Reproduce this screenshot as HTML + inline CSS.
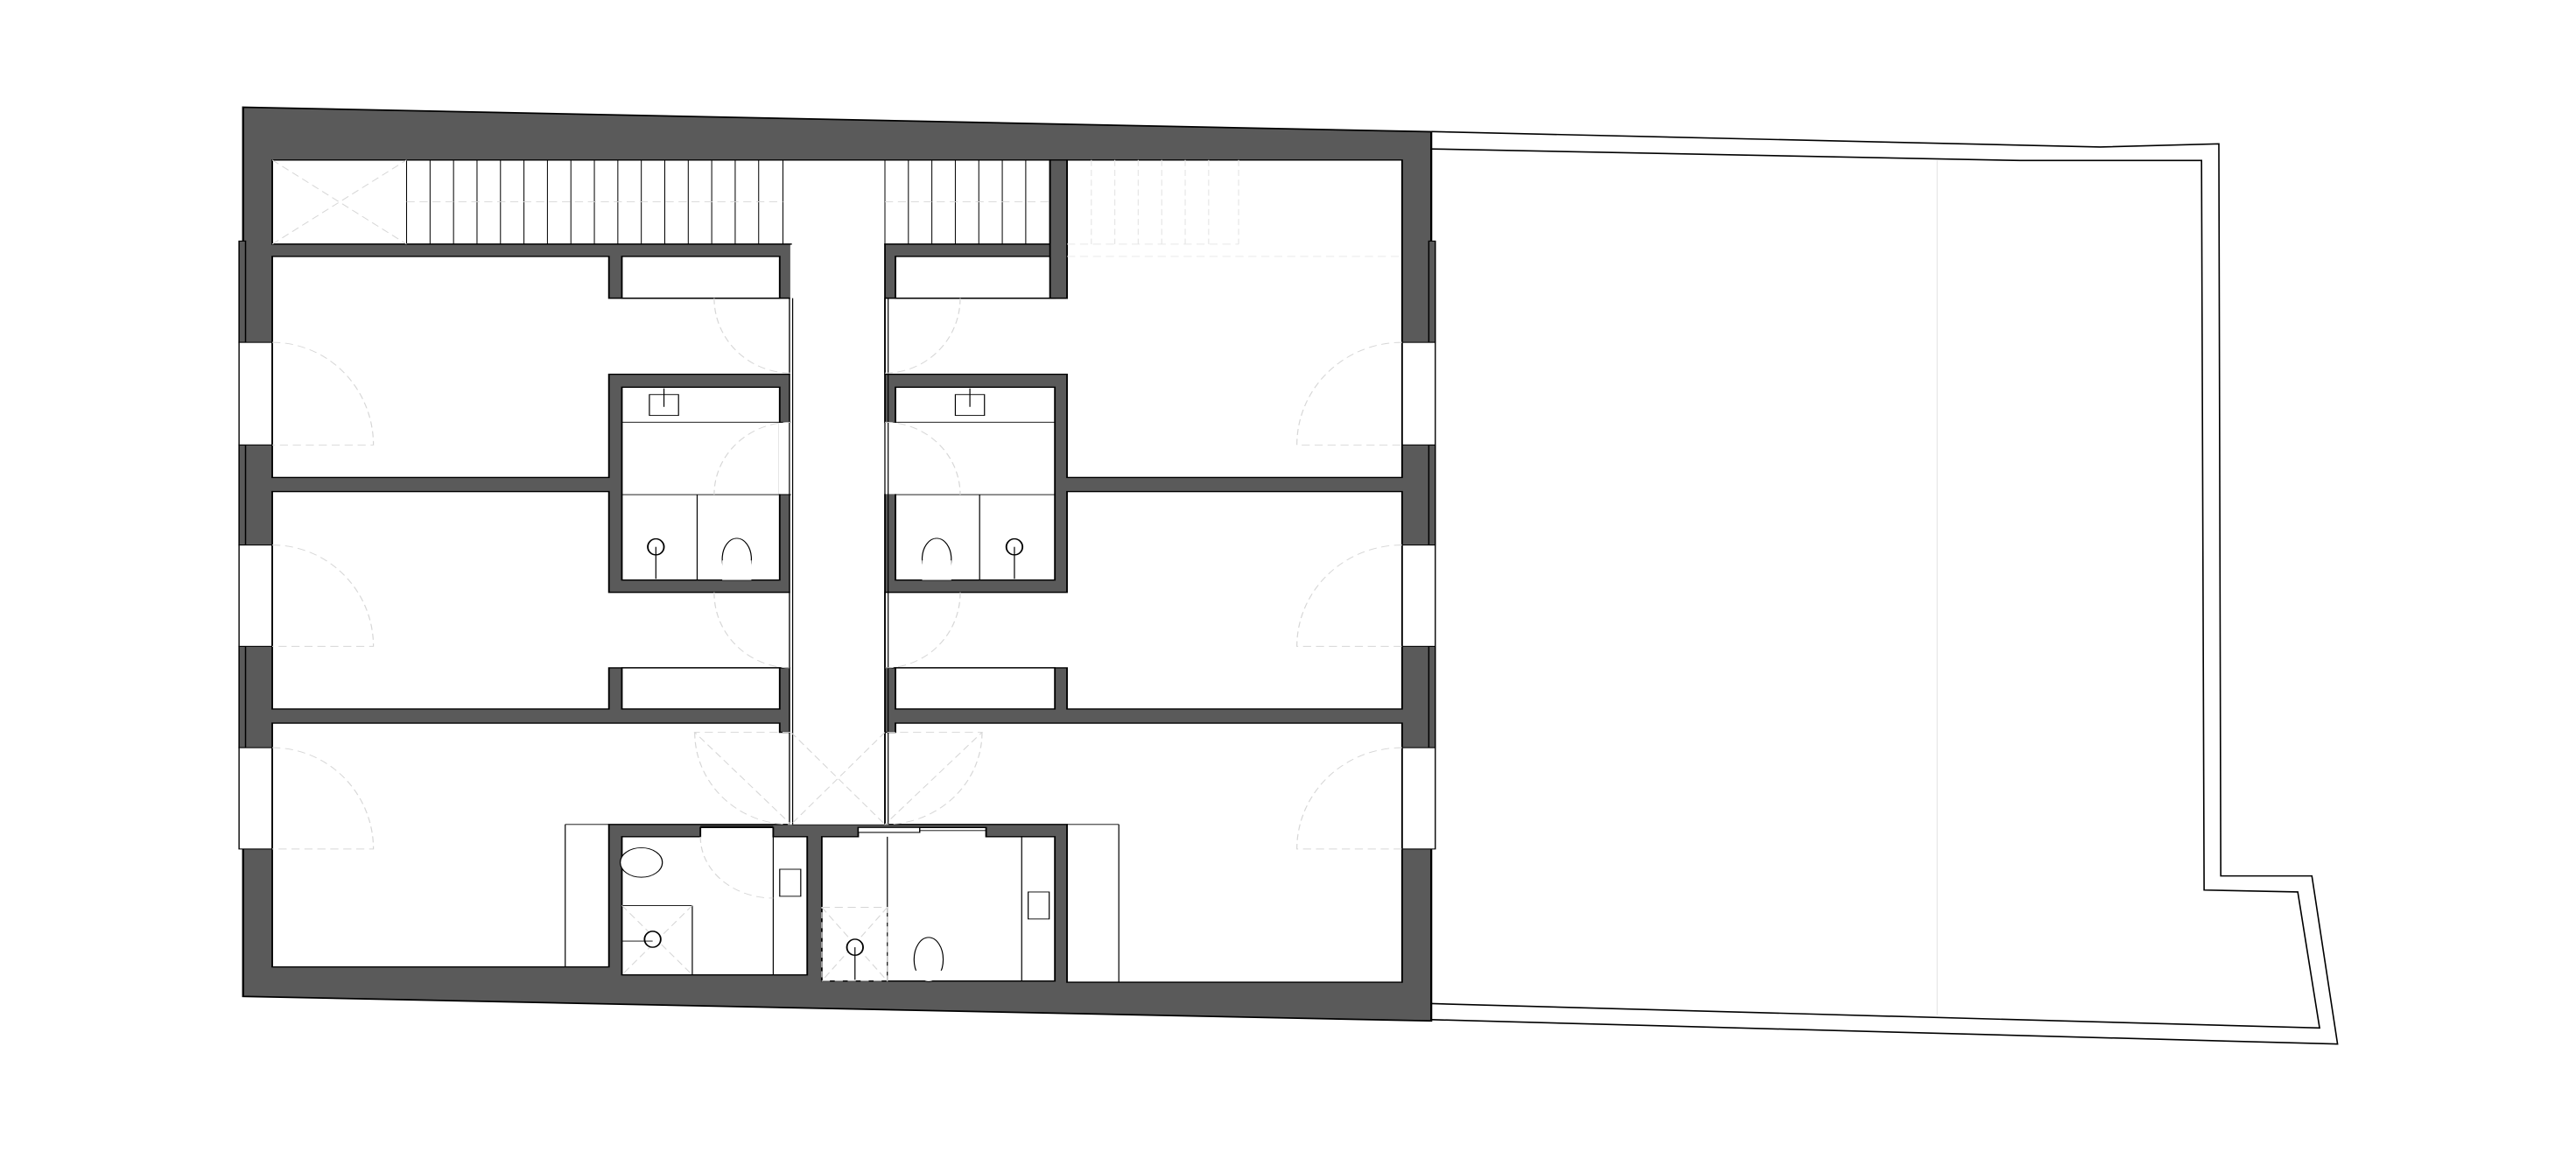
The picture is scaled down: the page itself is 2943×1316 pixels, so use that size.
<!DOCTYPE html>
<html><head><meta charset="utf-8"><style>
html,body{margin:0;padding:0;background:#fff;overflow:hidden;}
svg{display:block;}
</style></head><body>
<svg width="2943" height="1316" viewBox="0 0 2943 1316" xmlns="http://www.w3.org/2000/svg">
<rect width="2943" height="1316" fill="#fff"/>
<g transform="translate(1600.4,100.5) scale(0.733)" fill="none" stroke="#000" stroke-width="2.2">
  <polyline points="48,68 1090,92 1275,87 1278,1228 1420,1228 1460,1490 48,1452"/>
  <polyline points="48,95 965,113 1248,113 1252,1250 1398,1253 1432,1465 48,1427"/>
  <line x1="836" y1="113" x2="836" y2="1445" stroke="#e4e4e4" stroke-width="1.5"/>
</g>
<g transform="translate(250,100) scale(0.92466,0.7015)" stroke-linejoin="miter">
  <polygon points="30,32 1498,72 1498,1520 30,1480" fill="#5a5a5a" stroke="#000" stroke-width="2.5"/>
  <g fill="#5a5a5a" stroke="#000" stroke-width="1.6">
    <rect x="25" y="250" width="8" height="165"/><rect x="25" y="582" width="8" height="163"/><rect x="25" y="910" width="8" height="165"/>
    <rect x="1495" y="250" width="8" height="165"/><rect x="1495" y="582" width="8" height="163"/><rect x="1495" y="910" width="8" height="165"/>
  </g>
  <g fill="#fff" stroke="#000" stroke-width="1.5">
    <rect x="25" y="415" width="41" height="167"/><rect x="25" y="745" width="41" height="165"/><rect x="25" y="1075" width="41" height="165"/>
    <rect x="1462" y="415" width="41" height="167"/><rect x="1462" y="745" width="41" height="165"/><rect x="1462" y="1075" width="41" height="165"/>
  </g>
  <g fill="#fff" stroke="#000" stroke-width="2">
    <polygon points="66,118 1027,118 1027,255 823,255 823,1200 707,1200 707,255 66,255"/>
    <polygon points="1048,118 1462,118 1462,635 1048,635 1048,467 823,467 823,343 1048,343"/>
    <polygon points="66,275 482,275 482,343 707,343 707,467 482,467 482,635 66,635"/>
    <polygon points="66,658 482,658 482,822 707,822 707,945 482,945 482,1012 66,1012"/>
    <polygon points="1048,658 1462,658 1462,1012 1048,1012 1048,945 823,945 823,822 1048,822"/>
    <polygon points="66,1035 693,1035 693,1050 707,1050 707,1200 482,1200 482,1432 66,1432"/>
    <polygon points="836,1035 1462,1035 1462,1457 1048,1457 1048,1200 823,1200 823,1050 836,1050"/>
    <rect x="498" y="275" width="195" height="68"/><rect x="836" y="275" width="197" height="68"/>
    <rect x="498" y="945" width="195" height="67"/><rect x="836" y="945" width="197" height="67"/>
    <rect x="498" y="488" width="195" height="314"/><rect x="836" y="488" width="197" height="314"/>
    <polygon points="498,1220 595,1220 595,1205 685,1205 685,1220 727,1220 727,1445 498,1445"/>
    <polygon points="745,1220 790,1220 790,1205 948,1205 948,1220 1033,1220 1033,1455 745,1455"/>
  </g>
  <g fill="#fff" stroke="none">
    <rect x="692" y="546" width="16" height="116"/><rect x="822" y="546" width="16" height="116"/>
    <rect x="706" y="256" width="116" height="944"/>
  </g>
  <g stroke="#000" stroke-width="1.3">
    <line x1="705" y1="343" x2="705" y2="1200"/><line x1="709" y1="343" x2="709" y2="1200"/>
    <line x1="823" y1="343" x2="823" y2="1200"/><line x1="827" y1="343" x2="827" y2="1200"/>
    <line x1="498" y1="545" x2="707" y2="545"/><line x1="836" y1="545" x2="1033" y2="545"/>
    <line x1="498" y1="663" x2="707" y2="663"/><line x1="836" y1="663" x2="1033" y2="663"/>
    <line x1="591" y1="663" x2="591" y2="802"/><line x1="940" y1="663" x2="940" y2="802"/>
    <line x1="428" y1="1200" x2="482" y2="1200"/><line x1="428" y1="1200" x2="428" y2="1432"/>
    <line x1="1048" y1="1200" x2="1112" y2="1200"/><line x1="1112" y1="1200" x2="1112" y2="1457"/>
    <line x1="685" y1="1220" x2="685" y2="1445"/><line x1="826" y1="1220" x2="826" y2="1455"/>
    <line x1="992" y1="1220" x2="992" y2="1455"/>
    <line x1="498" y1="1332" x2="585" y2="1332"/><line x1="585" y1="1332" x2="585" y2="1445"/>
    <line x1="595" y1="1203" x2="685" y2="1203"/>
  </g>
  <rect x="790" y="1205" width="76" height="8" fill="#fff" stroke="#000" stroke-width="1.5"/>
  <line x1="866" y1="1210" x2="948" y2="1210" stroke="#000" stroke-width="1.3"/>
  <rect x="1027" y="118" width="21" height="225" fill="#5a5a5a" stroke="#000" stroke-width="2"/>
  <g stroke="#000" stroke-width="1.1">
    <line x1="232" y1="118" x2="232" y2="255"/>
    <line x1="261" y1="118" x2="261" y2="255"/><line x1="290" y1="118" x2="290" y2="255"/><line x1="319" y1="118" x2="319" y2="255"/>
    <line x1="348" y1="118" x2="348" y2="255"/><line x1="377" y1="118" x2="377" y2="255"/><line x1="406" y1="118" x2="406" y2="255"/>
    <line x1="435" y1="118" x2="435" y2="255"/><line x1="464" y1="118" x2="464" y2="255"/><line x1="493" y1="118" x2="493" y2="255"/>
    <line x1="522" y1="118" x2="522" y2="255"/><line x1="551" y1="118" x2="551" y2="255"/><line x1="580" y1="118" x2="580" y2="255"/>
    <line x1="609" y1="118" x2="609" y2="255"/><line x1="638" y1="118" x2="638" y2="255"/><line x1="667" y1="118" x2="667" y2="255"/>
    <line x1="697" y1="118" x2="697" y2="255"/>
    <line x1="823" y1="118" x2="823" y2="255"/><line x1="852" y1="118" x2="852" y2="255"/><line x1="881" y1="118" x2="881" y2="255"/>
    <line x1="910" y1="118" x2="910" y2="255"/><line x1="939" y1="118" x2="939" y2="255"/><line x1="968" y1="118" x2="968" y2="255"/>
    <line x1="997" y1="118" x2="997" y2="255"/>
  </g>
  <g fill="none" stroke="#d6d6d6" stroke-width="1.3" stroke-dasharray="10,6">
    <line x1="66" y1="118" x2="232" y2="255"/><line x1="66" y1="255" x2="232" y2="118"/>
    <line x1="232" y1="186" x2="697" y2="186"/><line x1="823" y1="186" x2="1027" y2="186"/>
    <g stroke="#e6e6e6"><line x1="1078" y1="118" x2="1078" y2="255"/><line x1="1107" y1="118" x2="1107" y2="255"/><line x1="1136" y1="118" x2="1136" y2="255"/><line x1="1165" y1="118" x2="1165" y2="255"/><line x1="1194" y1="118" x2="1194" y2="255"/><line x1="1223" y1="118" x2="1223" y2="255"/><line x1="1260" y1="118" x2="1260" y2="255"/><line x1="1048" y1="255" x2="1260" y2="255"/><line x1="1048" y1="275" x2="1462" y2="275"/></g>
    <path d="M66,415 A125,167 0 0 1 191,582 L66,582"/>
    <path d="M66,745 A125,165 0 0 1 191,910 L66,910"/>
    <path d="M66,1075 A125,165 0 0 1 191,1240 L66,1240"/>
    <path d="M1462,415 A130,167 0 0 0 1332,582 L1462,582"/>
    <path d="M1462,745 A130,165 0 0 0 1332,910 L1462,910"/>
    <path d="M1462,1075 A130,165 0 0 0 1332,1240 L1462,1240"/>
    <path d="M612,343 A95,122 0 0 0 707,465"/><path d="M916,343 A93,122 0 0 1 823,465"/>
    <path d="M707,545 A95,118 0 0 0 612,663"/><path d="M823,545 A93,118 0 0 1 916,663"/>
    <path d="M612,822 A95,122 0 0 0 707,945"/><path d="M916,822 A93,122 0 0 1 823,945"/>
    <path d="M588,1050 A118,150 0 0 0 707,1200 L588,1050 L707,1050"/>
    <path d="M943,1050 A120,150 0 0 1 823,1200 L943,1050 L823,1050"/>
    <line x1="707" y1="1050" x2="823" y2="1200"/><line x1="823" y1="1050" x2="707" y2="1200"/>
    <path d="M595,1220 A90,100 0 0 0 685,1320"/>
    <line x1="498" y1="1332" x2="585" y2="1445"/><line x1="585" y1="1332" x2="498" y2="1445"/>
    <rect x="745" y="1335" width="81" height="120"/><line x1="745" y1="1335" x2="826" y2="1455"/><line x1="826" y1="1335" x2="745" y2="1455"/>
  </g>
  <g fill="#fff" stroke="#000" stroke-width="1.3">
    <rect x="532" y="500" width="36" height="34"/><rect x="910" y="500" width="36" height="34"/>
    <line x1="550" y1="490" x2="550" y2="520"/><line x1="928" y1="490" x2="928" y2="520"/>
    <ellipse cx="640" cy="768" rx="18" ry="34"/><ellipse cx="887" cy="768" rx="18" ry="34"/>
    <rect x="622" y="770" width="36" height="32" stroke="none"/><rect x="869" y="770" width="36" height="32" stroke="none"/>
    <ellipse cx="540" cy="748" rx="10" ry="13" stroke-width="2"/><ellipse cx="983" cy="748" rx="10" ry="13" stroke-width="2"/>
    <line x1="540" y1="748" x2="540" y2="800"/><line x1="983" y1="748" x2="983" y2="800"/>
    <ellipse cx="522" cy="1262" rx="26" ry="24"/>
    <ellipse cx="536" cy="1387" rx="10" ry="13" stroke-width="2"/><line x1="498" y1="1390" x2="536" y2="1390"/>
    <rect x="693" y="1273" width="26" height="44"/><rect x="1000" y="1310" width="26" height="44"/>
    <ellipse cx="786" cy="1400" rx="10" ry="13" stroke-width="2"/><line x1="786" y1="1400" x2="786" y2="1453"/>
    <ellipse cx="877" cy="1420" rx="18" ry="36"/><rect x="855" y="1438" width="44" height="16" stroke="none"/>
  </g>
</g>
</svg>
</body></html>
